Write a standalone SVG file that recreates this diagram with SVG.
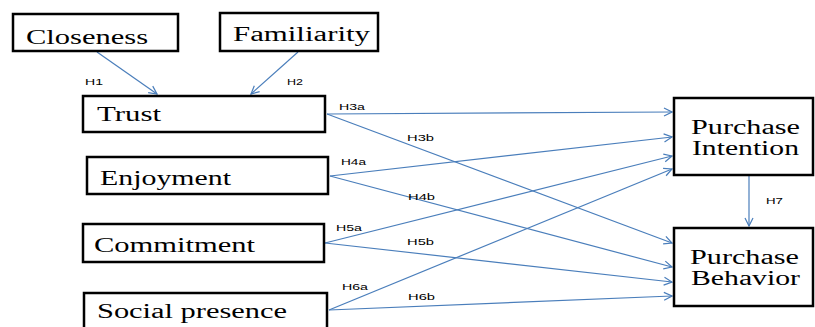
<svg xmlns="http://www.w3.org/2000/svg" width="815" height="327" viewBox="0 0 815 327">
<defs>
<marker id="ah" markerWidth="10" markerHeight="10" refX="9" refY="5" orient="auto" markerUnits="userSpaceOnUse">
<path d="M1,1 L9,5 L1,9" fill="none" stroke="#4a7ebb" stroke-width="1.2"/>
</marker>
</defs>
<style>
.box{fill:#fff;stroke:#000;stroke-width:2.5}
.t{font-family:"Liberation Serif","Times New Roman",serif;font-size:20px;fill:#000}
.c{stroke:#4a7ebb;stroke-width:1.2;fill:none;marker-end:url(#ah)}
.l{font-family:"Liberation Sans",Arial,sans-serif;font-size:9px;fill:#000}
</style>
<rect width="815" height="327" fill="#fff"/>
<g id="connectors">
<line class="c" x1="97" y1="52" x2="157" y2="94"/>
<line class="c" x1="298" y1="52" x2="251" y2="94"/>
<line class="c" x1="327" y1="114" x2="672" y2="112"/>
<line class="c" x1="327" y1="114" x2="672" y2="243"/>
<line class="c" x1="330" y1="176" x2="672" y2="137"/>
<line class="c" x1="330" y1="176" x2="672" y2="267"/>
<line class="c" x1="325" y1="243" x2="672" y2="156"/>
<line class="c" x1="325" y1="243" x2="672" y2="282"/>
<line class="c" x1="329" y1="310" x2="672" y2="169"/>
<line class="c" x1="329" y1="310" x2="672" y2="296"/>
<line class="c" x1="749" y1="176" x2="749" y2="226"/>
<text class="l" x="85" y="85" textLength="18" lengthAdjust="spacingAndGlyphs">H1</text>
<text class="l" x="287" y="85" textLength="16" lengthAdjust="spacingAndGlyphs">H2</text>
<text class="l" x="339" y="110" textLength="26" lengthAdjust="spacingAndGlyphs">H3a</text>
<text class="l" x="407" y="141" textLength="27" lengthAdjust="spacingAndGlyphs">H3b</text>
<text class="l" x="341" y="165" textLength="25" lengthAdjust="spacingAndGlyphs">H4a</text>
<text class="l" x="408" y="200" textLength="27" lengthAdjust="spacingAndGlyphs">H4b</text>
<text class="l" x="336" y="231" textLength="26" lengthAdjust="spacingAndGlyphs">H5a</text>
<text class="l" x="407" y="245" textLength="27" lengthAdjust="spacingAndGlyphs">H5b</text>
<text class="l" x="342" y="290" textLength="26" lengthAdjust="spacingAndGlyphs">H6a</text>
<text class="l" x="408" y="300" textLength="27" lengthAdjust="spacingAndGlyphs">H6b</text>
<text class="l" x="766" y="204" textLength="17" lengthAdjust="spacingAndGlyphs">H7</text>
</g>
<g id="closeness"><rect class="box" x="13" y="14" width="165" height="37"/><text class="t" x="26" y="44" textLength="122" lengthAdjust="spacingAndGlyphs">Closeness</text></g>
<g id="familiarity"><rect class="box" x="220" y="13" width="158" height="38"/><text class="t" x="233" y="41" textLength="137" lengthAdjust="spacingAndGlyphs">Familiarity</text></g>
<g id="trust"><rect class="box" x="83" y="96" width="242" height="36"/><text class="t" x="97" y="121" textLength="64" lengthAdjust="spacingAndGlyphs">Trust</text></g>
<g id="enjoyment"><rect class="box" x="87" y="157" width="241" height="37"/><text class="t" x="100" y="185" textLength="131" lengthAdjust="spacingAndGlyphs">Enjoyment</text></g>
<g id="commitment"><rect class="box" x="83" y="224" width="241" height="38"/><text class="t" x="94" y="252" textLength="161" lengthAdjust="spacingAndGlyphs">Commitment</text></g>
<g id="social-presence"><rect class="box" x="84" y="293" width="243" height="40"/><text class="t" x="97" y="318" textLength="190" lengthAdjust="spacingAndGlyphs">Social presence</text></g>
<g id="purchase-intention"><rect class="box" x="674" y="98" width="139" height="77"/><text class="t" x="691" y="134" textLength="109" lengthAdjust="spacingAndGlyphs">Purchase</text><text class="t" x="692" y="155" textLength="107" lengthAdjust="spacingAndGlyphs">Intention</text></g>
<g id="purchase-behavior"><rect class="box" x="674" y="228" width="139" height="78"/><text class="t" x="690" y="264" textLength="109" lengthAdjust="spacingAndGlyphs">Purchase</text><text class="t" x="691" y="285" textLength="109" lengthAdjust="spacingAndGlyphs">Behavior</text></g>
</svg>
